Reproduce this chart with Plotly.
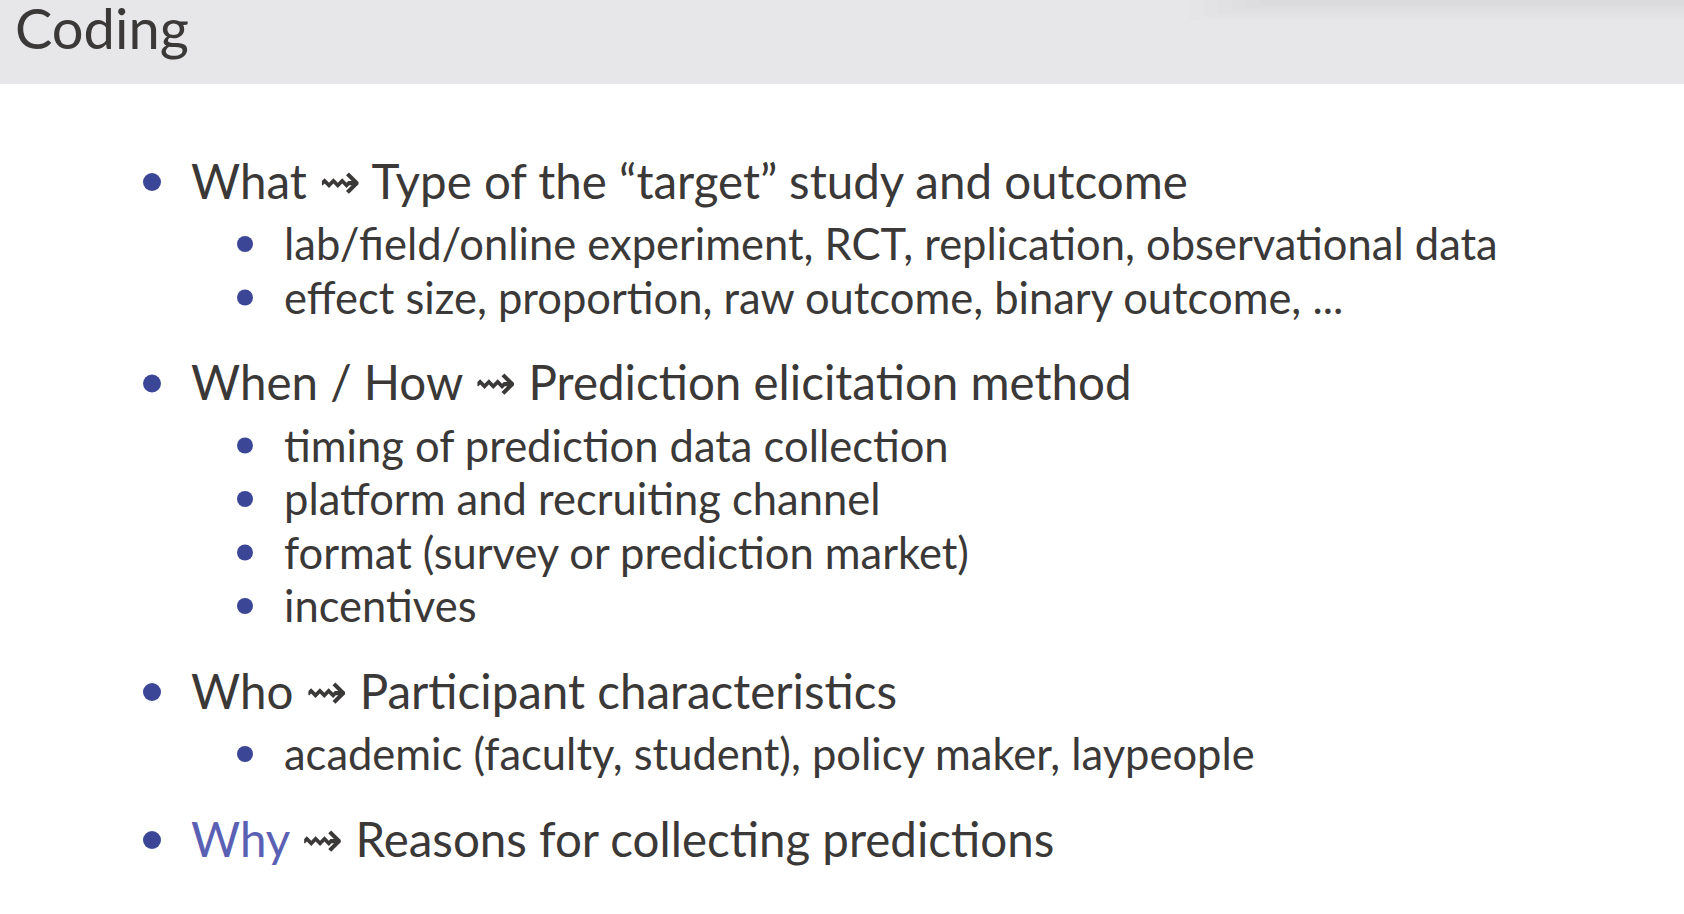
import plotly.graph_objects as go

# slide content
title = "Coding"
levels = [1, 2, 2, 1, 2, 2, 2, 2, 1, 2, 1]
keys = ["What", "", "", "When / How", "", "", "", "", "Who", "", "Why"]
texts = [
    "Type of the “target” study and outcome",
    "lab/field/online experiment, RCT, replication, observational data",
    "effect size, proportion, raw outcome, binary outcome, ...",
    "Prediction elicitation method",
    "timing of prediction data collection",
    "platform and recruiting channel",
    "format (survey or prediction market)",
    "incentives",
    "Participant characteristics",
    "academic (faculty, student), policy maker, laypeople",
    "Reasons for collecting predictions",
]
highlight = ["Why"]

W, H = 1684, 914
FONT = "Lato"
TEXT = "#3b3838"
BLUE = "#3c4696"
LIGHT_BLUE = "#5a60b4"
SIZE = {1: 47.5, 2: 43.5}
BULLET_X = {1: 152, 2: 245}
TEXT_X = {1: 189, 2: 282}
BULLET_R = {1: 18, 2: 16}

# vertical flow of the list
ys = []
y = 182
for i, lv in enumerate(levels):
    if i > 0:
        prev = levels[i - 1]
        if lv == 2 and prev == 1:
            y += 62
        elif lv == 2:
            y += 53.5
        else:
            y += 86
    ys.append(y)

fig = go.Figure()

for lv in (1, 2):
    fig.add_trace(go.Scatter(
        x=[BULLET_X[lv] for l in levels if l == lv],
        y=[yy for l, yy in zip(levels, ys) if l == lv],
        mode="markers",
        marker=dict(size=BULLET_R[lv], color=BLUE, line=dict(width=0)),
        hoverinfo="skip", showlegend=False,
    ))

# \leadsto
arrow = ' <span style="font-family:DejaVu Sans;font-size:50px">\u21dd</span> '
for lv, k, t, yy in zip(levels, keys, texts, ys):
    if k:
        kcol = LIGHT_BLUE if k in highlight else TEXT
        label = '<span style="color:{}">{}</span>{}{}'.format(kcol, k, arrow, t)
    else:
        label = t
    fig.add_annotation(
        x=TEXT_X[lv], y=yy - 1, text=label, showarrow=False,
        xanchor="left", yanchor="middle", align="left",
        font=dict(family=FONT, size=SIZE[lv], color=TEXT),
    )

# header bar with faint shading at the top right
fig.add_shape(type="rect", x0=0, x1=W, y0=0, y1=84, line_width=0,
              fillcolor="#e7e7ea", layer="below")
for j in range(6):
    fig.add_shape(type="rect", x0=1190 + 14 * j, x1=W, y0=0, y1=20 - 3 * j,
                  line_width=0, fillcolor="black", opacity=0.006,
                  layer="below")
fig.add_annotation(
    x=13, y=27, text=title, showarrow=False, xanchor="left", yanchor="middle",
    font=dict(family=FONT, size=56, color=TEXT),
)

fig.update_xaxes(range=[0, W], visible=False, fixedrange=True)
fig.update_yaxes(range=[H, 0], visible=False, fixedrange=True)
fig.update_layout(
    width=W, height=H,
    margin=dict(l=0, r=0, t=0, b=0),
    paper_bgcolor="white", plot_bgcolor="white",
)

fig.write_html("out.html", config={"displayModeBar": False},
               post_script="document.body.style.margin='0';"
                           "document.body.style.overflow='hidden';")
